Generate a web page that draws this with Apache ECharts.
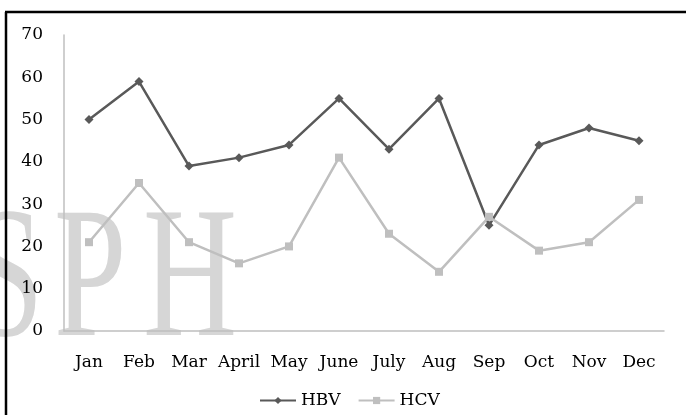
<!DOCTYPE html>
<html>
<head>
<meta charset="utf-8">
<script src="https://cdn.jsdelivr.net/npm/echarts@6/dist/echarts.min.js"></script>
<style>html,body{margin:0;padding:0;background:#fff}#c{width:686px;height:415px}</style>
</head>
<body>
<div id="c"></div>
<script>
const categories = ['Jan','Feb','Mar','April','May','June','July','Aug','Sep','Oct','Nov','Dec'];
const hbv = [50,59,39,41,44,55,43,55,25,44,48,45];
const hcv = [21,35,21,16,20,41,23,14,27,19,21,31];
const yTicks = [0,10,20,30,40,50,60,70];

const chart = echarts.init(document.getElementById('c'), null, {renderer:'canvas'});
const F = 'DejaVu Serif';
const wm = (ch, x) => ({
  type:'text', x:x, y:286, scaleX:0.7, scaleY:1, z:-10, silent:true,
  style:{text:ch, font:'186px "Liberation Serif"', fill:'#d6d6d6', align:'left', verticalAlign:'middle'}
});
chart.setOption({
  animation:false,
  backgroundColor:'#fff',
  graphic:[
    wm('S',-29), wm('P',54), wm('H',143),
    {type:'line', z:100, shape:{x1:5,y1:12,x2:686,y2:12}, style:{stroke:'#000',lineWidth:2.5}},
    {type:'line', z:100, shape:{x1:6,y1:12,x2:6,y2:415}, style:{stroke:'#000',lineWidth:2.5}}
  ],
  grid:{left:64, right:22, top:35, bottom:84, containLabel:false},
  legend:{
    top:387, left:254, itemWidth:36, itemHeight:9, itemGap:17,
    textStyle:{fontFamily:F, fontSize:17, color:'#000'},
    data:['HBV','HCV']
  },
  xAxis:{
    type:'category', data:categories, boundaryGap:true,
    axisLine:{lineStyle:{color:'#bfbfbf', width:1.5}},
    axisTick:{show:false},
    axisLabel:{fontFamily:F, fontSize:17, color:'#000', margin:23, interval:0}
  },
  yAxis:{
    type:'value', min:yTicks[0], max:yTicks[yTicks.length-1], interval:10,
    axisLine:{show:true, lineStyle:{color:'#bfbfbf', width:1.5}},
    axisTick:{show:false},
    splitLine:{show:false},
    axisLabel:{fontFamily:F, fontSize:17, color:'#000', margin:21}
  },
  series:[
    {name:'HBV', type:'line', data:hbv, symbol:'diamond', symbolSize:9,
     lineStyle:{color:'#595959', width:2.5}, itemStyle:{color:'#595959'}},
    {name:'HCV', type:'line', data:hcv, symbol:'rect', symbolSize:8,
     lineStyle:{color:'#bfbfbf', width:2.5}, itemStyle:{color:'#bfbfbf'}}
  ]
});
</script>
</body>
</html>
